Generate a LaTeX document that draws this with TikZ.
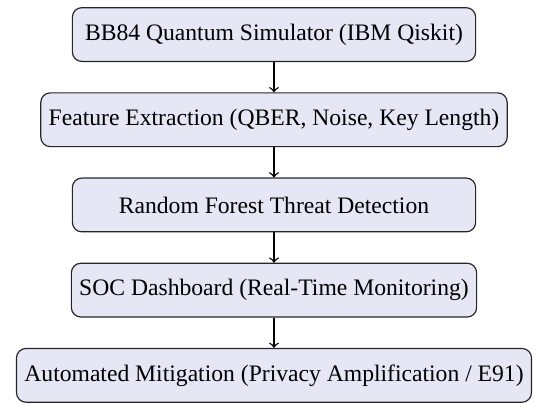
\documentclass[tikz,border=0pt]{standalone}
\usepackage{fontspec}
\setmainfont{Liberation Serif}[Ligatures=TeX]
\usetikzlibrary{positioning}
\definecolor{stagefill}{RGB}{230,230,245}
\begin{document}
\begin{tikzpicture}[
  node distance=0.45cm,
  stagebox/.style={draw=black!85, line width=0.5pt, rectangle, rounded corners, fill=stagefill,
    minimum width=6cm, minimum height=0.8cm, align=center, font=\rmfamily\normalsize},
  flow/.style={->, semithick}
]
\node[stagebox] (sim) {BB84 Quantum Simulator (IBM Qiskit)};
\node[stagebox, below=of sim] (feat) {Feature Extraction (QBER, Noise, Key Length)};
\node[stagebox, below=of feat] (rf) {Random Forest Threat Detection};
\node[stagebox, below=of rf] (soc) {SOC Dashboard (Real-Time Monitoring)};
\node[stagebox, below=of soc] (mit) {Automated Mitigation (Privacy Amplification / E91)};

\draw[flow] (sim) -- (feat);
\draw[flow] (feat) -- (rf);
\draw[flow] (rf) -- (soc);
\draw[flow] (soc) -- (mit);

% page frame
\useasboundingbox ([xshift=-116pt, yshift=3pt]sim.north) rectangle ([xshift=116pt, yshift=-164pt]sim.north);
\end{tikzpicture}
\end{document}
